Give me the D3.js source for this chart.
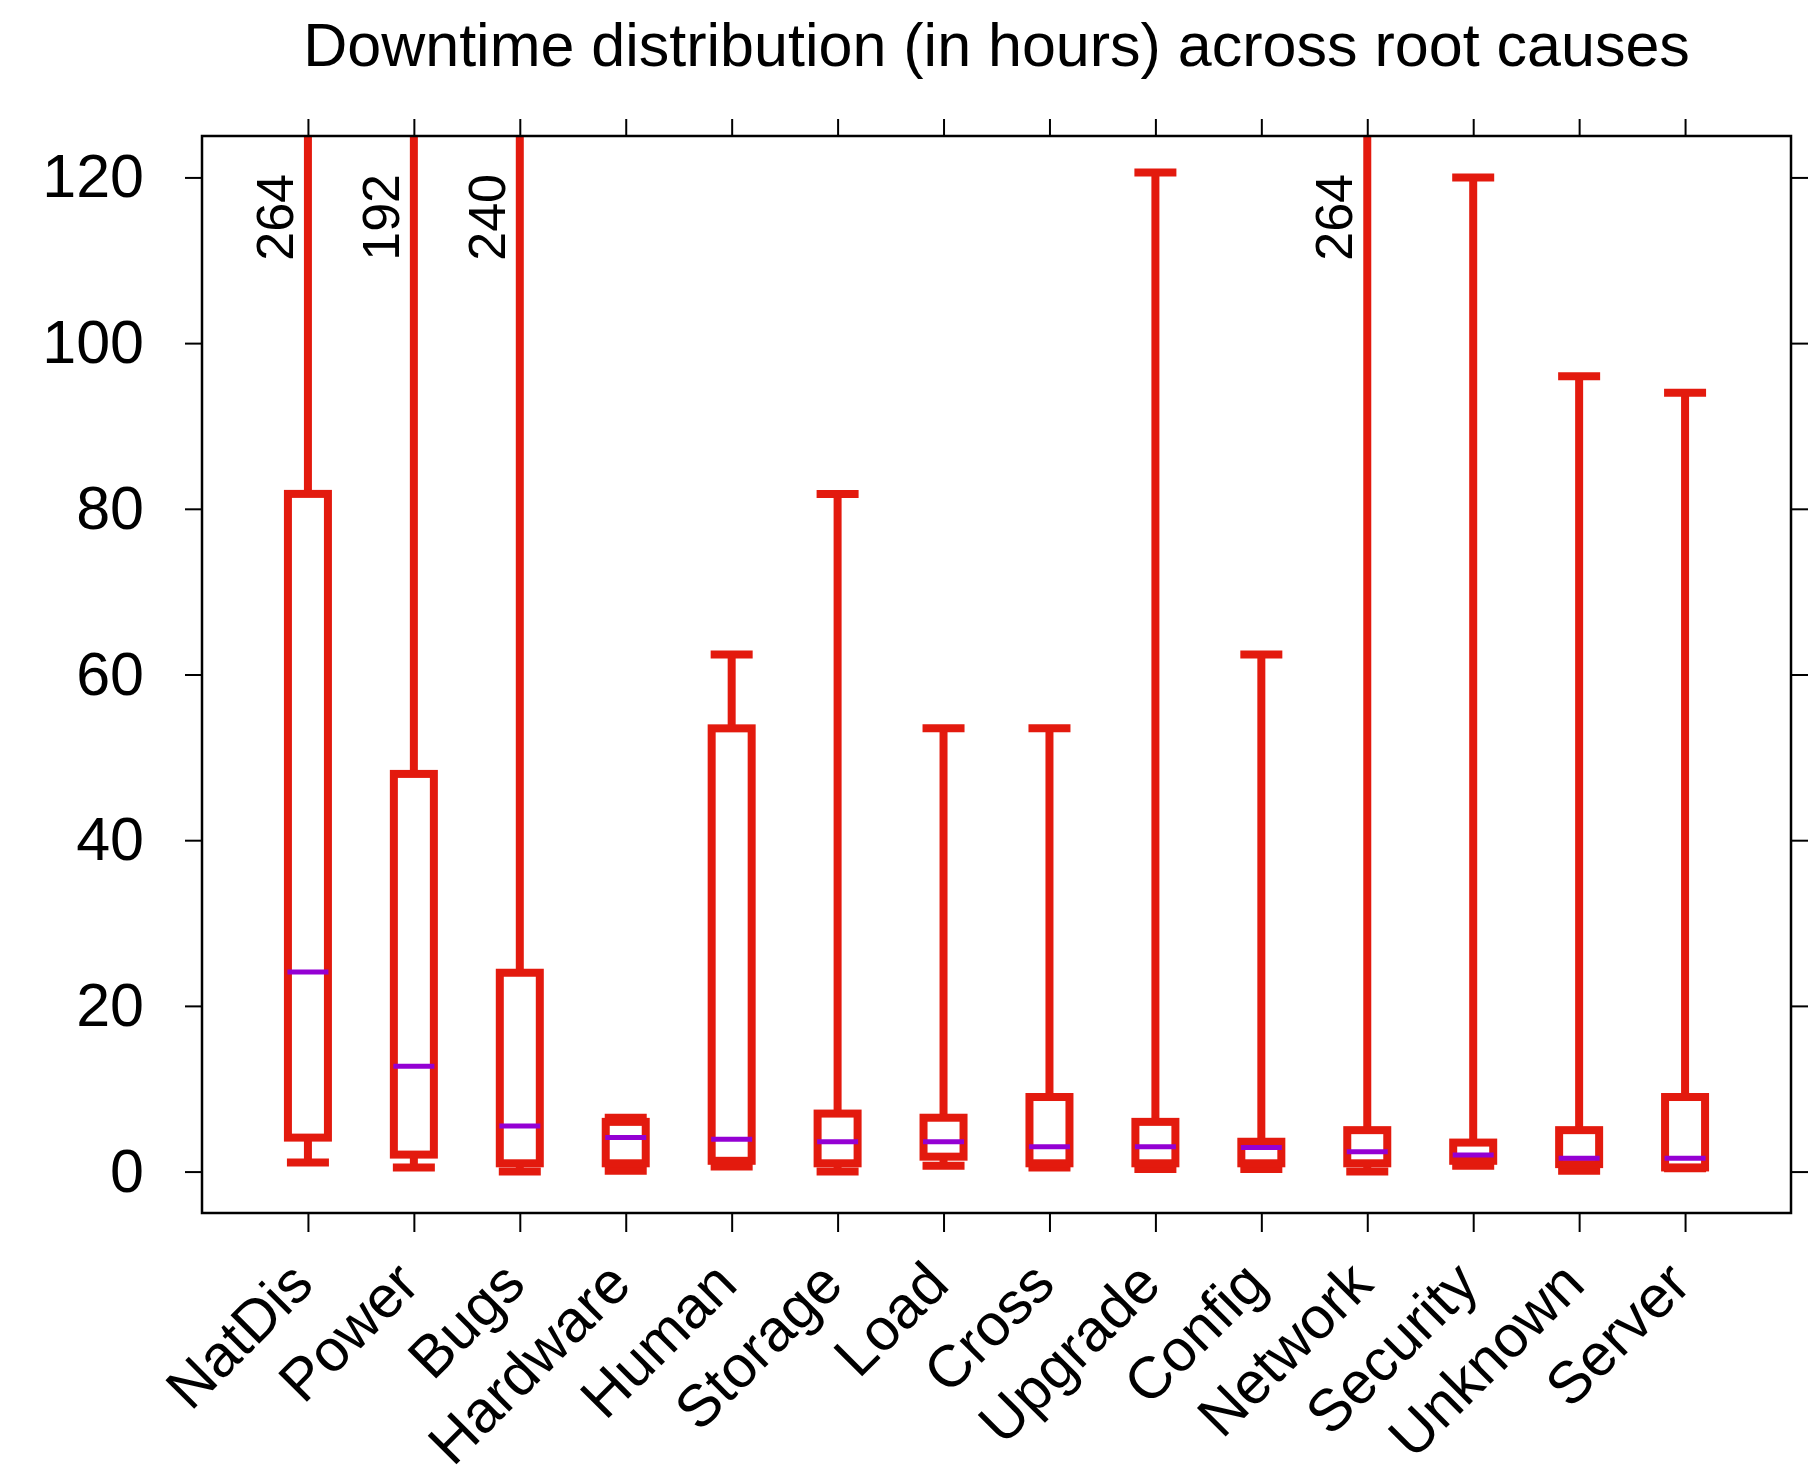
<!DOCTYPE html>
<html>
<head>
<meta charset="utf-8">
<script src="https://cdn.jsdelivr.net/npm/d3@7"></script>
<style>
  body { margin: 0; background: #fff; }
  text { font-family: "Liberation Sans", Arial, sans-serif; fill: #000; }
</style>
</head>
<body>
<svg id="chart" width="1808" height="1467"></svg>
<script>
// downtime per root cause, hours
const causes = ["NatDis", "Power", "Bugs", "Hardware", "Human", "Storage", "Load", "Cross", "Upgrade", "Config", "Network", "Security", "Unknown", "Server"]
const lowWhisker = [1.1, 0.5, 0, 0.1, 0.6, 0, 0.7, 0.5, 0.3, 0.3, 0, 0.7, 0.1, 0.4]
const q1 = [4.1, 2.05, 1.0, 1.0, 1.3, 1.0, 1.8, 1.0, 1.0, 1.0, 1.0, 1.3, 0.9, 0.5]
const medians = [24.1, 12.7, 5.5, 4.1, 3.9, 3.6, 3.6, 3.0, 3.0, 2.9, 2.4, 2.0, 1.6, 1.6]
const q3 = [81.8, 48.0, 24.0, 6.0, 53.5, 7.0, 6.5, 9.0, 6.0, 3.6, 5.0, 3.5, 5.0, 9.0]
const highWhisker = [264, 192, 240, 6.5, 62.4, 81.8, 53.5, 53.5, 120.6, 62.4, 264, 120, 96, 94]
const yTicks = [0, 20, 40, 60, 80, 100, 120]
const chartTitle = "Downtime distribution (in hours) across root causes"

const red = "#e31a0e", purple = "#9400d3"
const frame = { left: 202, right: 1791, top: 136, bottom: 1213 }
const boxW = 40, capW = 42, medW = 41

const svg = d3.select("#chart")
const x = d3.scaleLinear().domain([0, causes.length + 1]).range([frame.left, frame.right])
const y = d3.scaleLinear().domain([-5, 125]).range([frame.bottom, frame.top])
const data = causes.map((c, i) => ({ name: c, pos: i + 1, lo: lowWhisker[i], q1: q1[i], med: medians[i], q3: q3[i], hi: highWhisker[i] }))

svg.append("text").attr("x", (frame.left + frame.right) / 2).attr("y", 66)
  .attr("text-anchor", "middle").attr("font-size", 61).text(chartTitle)

svg.append("clipPath").attr("id", "plotclip").append("rect")
  .attr("x", frame.left).attr("y", frame.top).attr("width", frame.right - frame.left).attr("height", frame.bottom - frame.top)

//--------- axes, ticks on all four sides
const tickVals = data.map(d => d.pos)
const styleAxis = g => { g.select(".domain").remove(); g.selectAll(".tick line").attr("stroke", "#000").attr("stroke-width", 2) }
svg.append("g").attr("transform", `translate(${frame.left},0)`)
  .call(d3.axisLeft(y).tickValues(yTicks).tickSize(17).tickPadding(41)).call(styleAxis)
  .selectAll("text").attr("font-size", 61).attr("font-family", "Liberation Sans, Arial, sans-serif")
svg.append("g").attr("transform", `translate(${frame.right},0)`)
  .call(d3.axisRight(y).tickValues(yTicks).tickSize(17).tickFormat("")).call(styleAxis)
svg.append("g").attr("transform", `translate(0,${frame.bottom})`)
  .call(d3.axisBottom(x).tickValues(tickVals).tickSize(19).tickFormat("")).call(styleAxis)
svg.append("g").attr("transform", `translate(0,${frame.top})`)
  .call(d3.axisTop(x).tickValues(tickVals).tickSize(17).tickFormat("")).call(styleAxis)

svg.selectAll(".xlab").data(data).join("text").attr("class", "xlab")
  .attr("transform", d => `translate(${x(d.pos) + 8},1287) rotate(-45)`)
  .attr("text-anchor", "end").attr("font-size", 59).text(d => d.name)

//--------- boxes
const plot = svg.append("g").attr("clip-path", "url(#plotclip)")
const b = plot.selectAll(".box").data(data).join("g").attr("class", "box")
b.append("line").attr("x1", d => x(d.pos)).attr("x2", d => x(d.pos))
  .attr("y1", d => y(d.q3)).attr("y2", d => y(d.hi)).attr("stroke", red).attr("stroke-width", 8)
b.append("line").attr("x1", d => x(d.pos)).attr("x2", d => x(d.pos))
  .attr("y1", d => y(d.q1)).attr("y2", d => y(d.lo)).attr("stroke", red).attr("stroke-width", 8)
b.filter(d => d.hi <= y.domain()[1]).append("line")
  .attr("x1", d => x(d.pos) - capW / 2).attr("x2", d => x(d.pos) + capW / 2)
  .attr("y1", d => y(d.hi)).attr("y2", d => y(d.hi)).attr("stroke", red).attr("stroke-width", 8)
b.append("line").attr("x1", d => x(d.pos) - capW / 2).attr("x2", d => x(d.pos) + capW / 2)
  .attr("y1", d => y(d.lo)).attr("y2", d => y(d.lo)).attr("stroke", red).attr("stroke-width", 8)
b.append("rect").attr("x", d => x(d.pos) - boxW / 2).attr("width", boxW)
  .attr("y", d => y(d.q3)).attr("height", d => y(d.q1) - y(d.q3))
  .attr("fill", "none").attr("stroke", red).attr("stroke-width", 8)
b.append("line").attr("x1", d => x(d.pos) - medW / 2).attr("x2", d => x(d.pos) + medW / 2)
  .attr("y1", d => y(d.med)).attr("y2", d => y(d.med)).attr("stroke", purple).attr("stroke-width", 5)

// values of whiskers running off the top
svg.selectAll(".outl").data(data.filter(d => d.hi > y.domain()[1])).join("text").attr("class", "outl")
  .attr("transform", d => `translate(${x(d.pos) - 15},174) rotate(-90)`)
  .attr("text-anchor", "end").attr("font-size", 52).text(d => d.hi)

svg.append("rect").attr("x", frame.left).attr("y", frame.top)
  .attr("width", frame.right - frame.left).attr("height", frame.bottom - frame.top)
  .attr("fill", "none").attr("stroke", "#000").attr("stroke-width", 2.5)
</script>
</body>
</html>
